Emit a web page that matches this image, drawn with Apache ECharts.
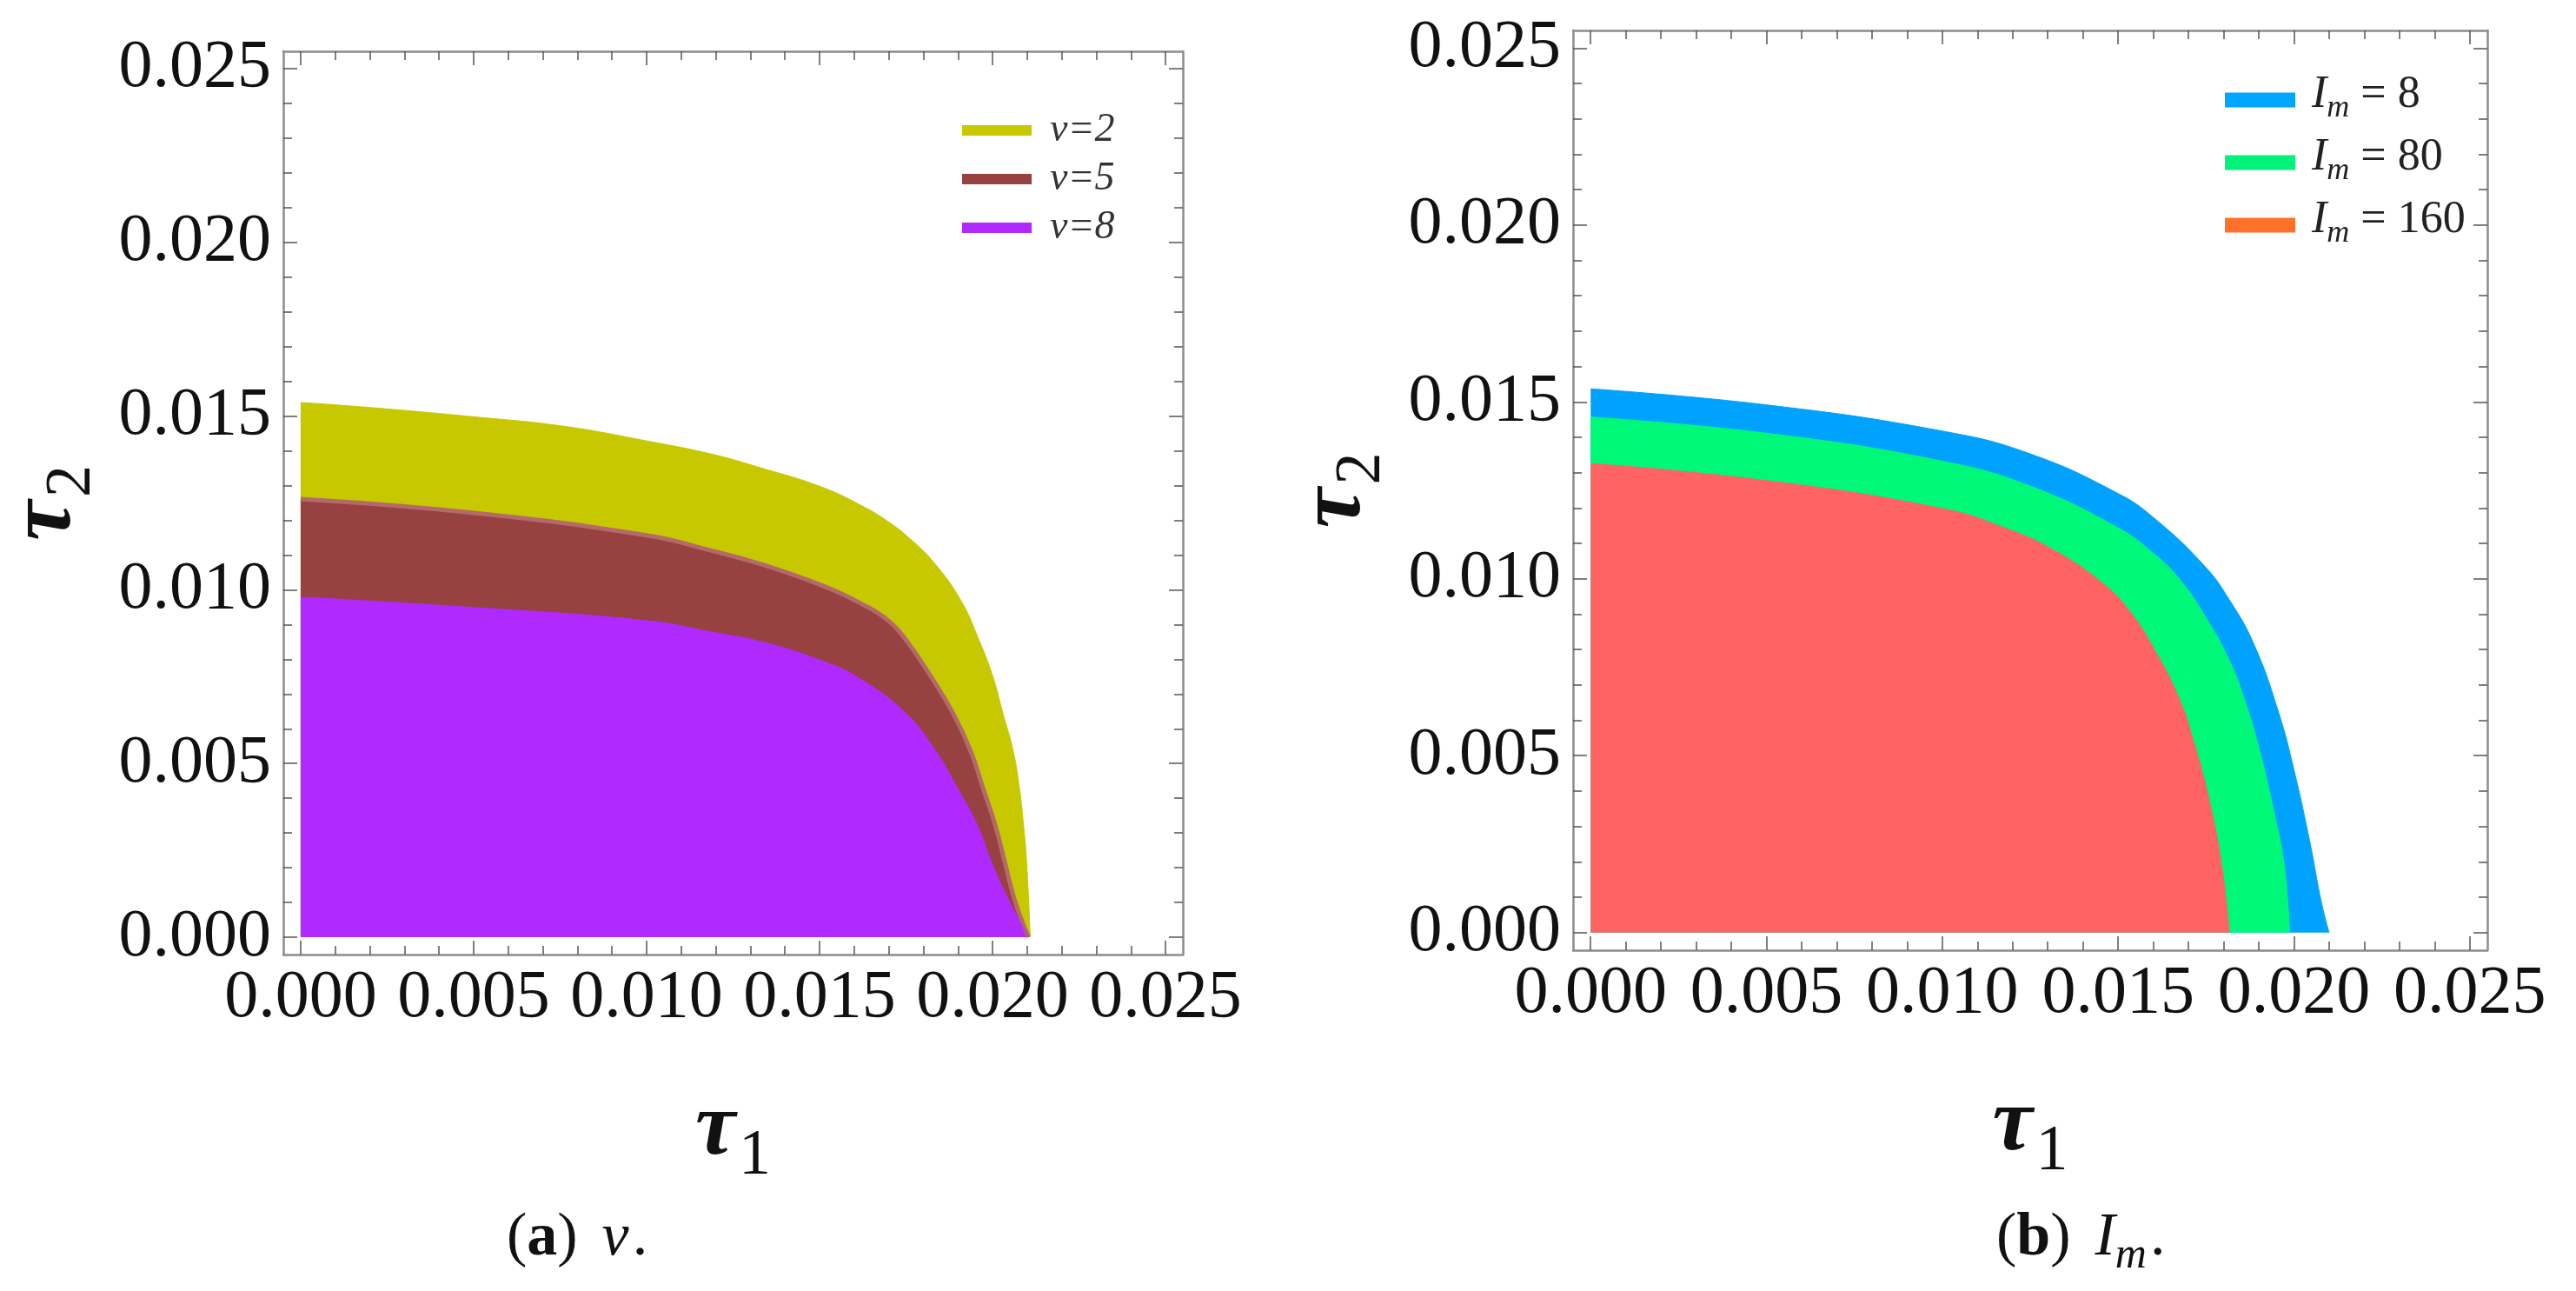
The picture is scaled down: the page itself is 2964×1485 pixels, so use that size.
<!DOCTYPE html>
<html>
<head>
<meta charset="utf-8">
<script src="https://cdn.jsdelivr.net/npm/echarts@6/dist/echarts.min.js"></script>
<style>
html, body { margin: 0; padding: 0; background: #fff; }
#main { width: 2964px; height: 1485px; }
</style>
</head>
<body>
<div id="main"></div>
<script>
// tick positions (both panels share the same frame)
var majorTicks = [0, 0.005, 0.010, 0.015, 0.020, 0.025];
var minorTicks = [0.001, 0.002, 0.003, 0.004, 0.006, 0.007, 0.008, 0.009,
                  0.011, 0.012, 0.013, 0.014, 0.016, 0.017, 0.018, 0.019,
                  0.021, 0.022, 0.023, 0.024];

// panel (a): boundary of each region, [tau1, tau2]
var v2 = [[0, 0.01539], [0.00184, 0.01526], [0.0050, 0.01498], [0.00759, 0.01471],
          [0.01003, 0.01428], [0.0119, 0.0139], [0.0133, 0.01351], [0.01503, 0.01297],
          [0.0162, 0.01243], [0.0170, 0.01195], [0.0176, 0.01148], [0.0183, 0.01079],
          [0.01908, 0.0097], [0.01958, 0.00862], [0.0200, 0.00753], [0.0203, 0.00644],
          [0.0206, 0.00535], [0.02078, 0.00427], [0.0209, 0.00318], [0.02099, 0.00209],
          [0.02109, 0]];
var v5 = [[0, 0.01261], [0.0050, 0.01221], [0.01003, 0.01156], [0.0119, 0.01112],
          [0.0133, 0.01074], [0.01503, 0.01014], [0.0162, 0.0096], [0.0170, 0.0091],
          [0.0175, 0.00855], [0.0182, 0.00753], [0.01886, 0.00644], [0.01937, 0.00535],
          [0.01973, 0.00427], [0.02009, 0.00318], [0.02037, 0.00209], [0.02066, 0.001],
          [0.02104, 0]];
var v8 = [[0, 0.00979], [0.0050, 0.00949], [0.01003, 0.00911], [0.0119, 0.00878],
          [0.0133, 0.00851], [0.01503, 0.00797], [0.0161, 0.00748], [0.0175, 0.00644],
          [0.01836, 0.00535], [0.0190, 0.00427], [0.01958, 0.00318], [0.0200, 0.00209],
          [0.0205, 0.001], [0.02104, 0]];

// panel (b)
var im8 = [[0, 0.01537], [0.00496, 0.01492], [0.01003, 0.01417], [0.0125, 0.01353],
           [0.0150, 0.01241], [0.01603, 0.01171], [0.01745, 0.01037], [0.01816, 0.00941],
           [0.01887, 0.00813], [0.01957, 0.0062], [0.0200, 0.0046], [0.02043, 0.00267],
           [0.02078, 0.00086], [0.0210, 0]];
var im80 = [[0, 0.01457], [0.00496, 0.01412], [0.01003, 0.01332], [0.0125, 0.01262],
            [0.0150, 0.01144], [0.01603, 0.0107], [0.01674, 0.0100], [0.01745, 0.00898],
            [0.01816, 0.0077], [0.01858, 0.00663], [0.0190, 0.00524], [0.01943, 0.00342],
            [0.01972, 0.00193], [0.01988, 0]];
var im160 = [[0, 0.01326], [0.00496, 0.01278], [0.01003, 0.01198], [0.01177, 0.01144],
             [0.01319, 0.0108], [0.0146, 0.00984], [0.01532, 0.00909], [0.01603, 0.0080],
             [0.01674, 0.0066], [0.01716, 0.00535], [0.01759, 0.00374], [0.01794, 0.00193],
             [0.01816, 0]];

var serif = 'Liberation Serif';
var frameColor = '#8c8c8c';
var tickColor = '#555';

function fmt(v) { return v.toFixed(3); }

var tauStyle = {
    rich: {
        t: { fontFamily: serif, fontStyle: 'italic', fontWeight: 'bold', fontSize: 104, color: '#111',
             verticalAlign: 'bottom', lineHeight: 120, padding: [0, 4, 16, 0] },
        s: { fontFamily: serif, fontSize: 74, color: '#111', verticalAlign: 'bottom', lineHeight: 120 }
    }
};

function xAxes(grid) {
    var base = { gridIndex: grid, type: 'value', min: -0.0005, max: 0.0255, splitLine: { show: false } };
    return [
        Object.assign({}, base, {
            position: 'bottom',
            name: '{t|τ}{s|1}', nameLocation: 'middle', nameGap: 150, nameTextStyle: tauStyle,
            axisLine: { show: true, onZero: false, lineStyle: { color: frameColor, width: 2.5 } },
            axisTick: { inside: true, length: 16, customValues: majorTicks, lineStyle: { color: tickColor, width: 1.5 } },
            axisLabel: { customValues: majorTicks, formatter: fmt, margin: 12,
                         fontFamily: serif, fontSize: 78, color: '#111' }
        }),
        Object.assign({}, base, {
            position: 'bottom',
            axisLine: { show: false, onZero: false },
            axisTick: { inside: true, length: 10, customValues: minorTicks, lineStyle: { color: tickColor, width: 1.5 } },
            axisLabel: { show: false }
        }),
        Object.assign({}, base, {
            position: 'top',
            axisLine: { show: true, onZero: false, lineStyle: { color: frameColor, width: 2.5 } },
            axisTick: { inside: true, length: 16, customValues: majorTicks, lineStyle: { color: tickColor, width: 1.5 } },
            axisLabel: { show: false }
        }),
        Object.assign({}, base, {
            position: 'top',
            axisLine: { show: false, onZero: false },
            axisTick: { inside: true, length: 10, customValues: minorTicks, lineStyle: { color: tickColor, width: 1.5 } },
            axisLabel: { show: false }
        })
    ];
}

function yAxes(grid) {
    var base = { gridIndex: grid, type: 'value', min: -0.0005, max: 0.0255, splitLine: { show: false } };
    return [
        Object.assign({}, base, {
            position: 'left',
            name: '{t|τ}{s|2}', nameLocation: 'middle', nameGap: 205, nameRotate: 90, nameTextStyle: tauStyle,
            axisLine: { show: true, onZero: false, lineStyle: { color: frameColor, width: 2.5 } },
            axisTick: { inside: true, length: 16, customValues: majorTicks, lineStyle: { color: tickColor, width: 1.5 } },
            axisLabel: { customValues: majorTicks, formatter: fmt, margin: 14,
                         fontFamily: serif, fontSize: 78, color: '#111' }
        }),
        Object.assign({}, base, {
            position: 'left',
            axisLine: { show: false, onZero: false },
            axisTick: { inside: true, length: 10, customValues: minorTicks, lineStyle: { color: tickColor, width: 1.5 } },
            axisLabel: { show: false }
        }),
        Object.assign({}, base, {
            position: 'right',
            axisLine: { show: true, onZero: false, lineStyle: { color: frameColor, width: 2.5 } },
            axisTick: { inside: true, length: 16, customValues: majorTicks, lineStyle: { color: tickColor, width: 1.5 } },
            axisLabel: { show: false }
        }),
        Object.assign({}, base, {
            position: 'right',
            axisLine: { show: false, onZero: false },
            axisTick: { inside: true, length: 10, customValues: minorTicks, lineStyle: { color: tickColor, width: 1.5 } },
            axisLabel: { show: false }
        })
    ];
}

function region(name, data, axis, fill, edge, edgeWidth) {
    return {
        name: name, type: 'line', xAxisIndex: axis, yAxisIndex: axis, data: data,
        symbol: 'none', showSymbol: false, smooth: 0.45,
        itemStyle: { color: fill },
        lineStyle: { color: edge, width: edgeWidth },
        areaStyle: { color: fill, opacity: 1 },
        silent: true
    };
}

var captionRich = {
    p: { fontFamily: serif, fontSize: 70, fontWeight: 'normal', color: '#111', verticalAlign: 'bottom', lineHeight: 80, padding: [0, 0, 10, 0] },
    b: { fontFamily: serif, fontSize: 70, fontWeight: 'bold', color: '#111', verticalAlign: 'bottom', lineHeight: 80, padding: [0, 0, 10, 0] },
    i: { fontFamily: serif, fontSize: 70, fontStyle: 'italic', fontWeight: 'normal', color: '#111', verticalAlign: 'bottom', lineHeight: 80, padding: [0, 0, 10, 28] },
    s: { fontFamily: serif, fontSize: 50, fontStyle: 'italic', fontWeight: 'normal', color: '#111', verticalAlign: 'bottom', lineHeight: 80 },
    d: { fontFamily: serif, fontSize: 70, fontWeight: 'normal', color: '#111', verticalAlign: 'bottom', lineHeight: 80, padding: [0, 0, 10, 4] }
};

var chart = echarts.init(document.getElementById('main'));
var option = {
    animation: false,
    backgroundColor: '#fff',
    title: [
        {
            text: '{p|(}{b|a}{p|)}{i|v}{d|.}', left: 578, top: 1385,
            textStyle: { fontWeight: 'normal', rich: captionRich }
        },
        {
            text: '{p|(}{b|b}{p|)}{i|I}{s|m}{d|.}', left: 2292, top: 1385,
            textStyle: { fontWeight: 'normal', rich: captionRich }
        }
    ],
    legend: [
        {
            data: ['v=2', 'v=5', 'v=8'], orient: 'vertical', left: 1102, top: 122,
            icon: 'rect', itemWidth: 80, itemHeight: 12, itemGap: 10, selectedMode: false,
            formatter: function (name) { return '{v|' + name + '}'; },
            textStyle: { lineHeight: 46, rich: {
                v: { fontFamily: serif, fontStyle: 'italic', fontSize: 46, color: '#333', lineHeight: 46, padding: [0, 0, 0, 16] }
            } }
        },
        {
            data: [
                { name: 'I_m = 8', itemStyle: { color: '#00a6ff' } },
                { name: 'I_m = 80', itemStyle: { color: '#00f27a' } },
                { name: 'I_m = 160', itemStyle: { color: '#ff7028' } }
            ],
            orient: 'vertical', left: 2555, top: 78,
            icon: 'rect', itemWidth: 81, itemHeight: 17, itemGap: 12, selectedMode: false,
            formatter: function (name) { return '{i|I}{m|m}{n| = ' + name.split('= ')[1] + '}'; },
            textStyle: { lineHeight: 56, rich: {
                i: { fontFamily: serif, fontStyle: 'italic', fontSize: 52, color: '#222', verticalAlign: 'bottom', lineHeight: 56, padding: [0, 0, 8, 14] },
                m: { fontFamily: serif, fontStyle: 'italic', fontSize: 36, color: '#222', verticalAlign: 'bottom', lineHeight: 56 },
                n: { fontFamily: serif, fontSize: 52, color: '#222', verticalAlign: 'bottom', lineHeight: 56, padding: [0, 0, 8, 0] }
            } }
        }
    ],
    grid: [
        { left: 321, top: 59, width: 1040, height: 1039 },
        { left: 1810, top: 35, width: 1052, height: 1058 }
    ],
    xAxis: xAxes(0).concat(xAxes(1)),
    yAxis: yAxes(0).concat(yAxes(1)),
    series: [
        region('v=2', v2, 0, '#c8c800', '#c8c800', 1),
        region('v=5', v5, 0, '#974141', '#b46a6a', 5),
        region('v=8', v8, 0, '#b02aff', '#b02aff', 1),
        region('I_m = 8', im8, 4, '#00a2ff', '#00a2ff', 1),
        region('I_m = 80', im80, 4, '#00f878', '#00f878', 1),
        region('I_m = 160', im160, 4, '#ff6363', '#ff6363', 1)
    ]
};
chart.setOption(option);
window.addEventListener('resize', function () { chart.resize(); });
</script>
</body>
</html>
